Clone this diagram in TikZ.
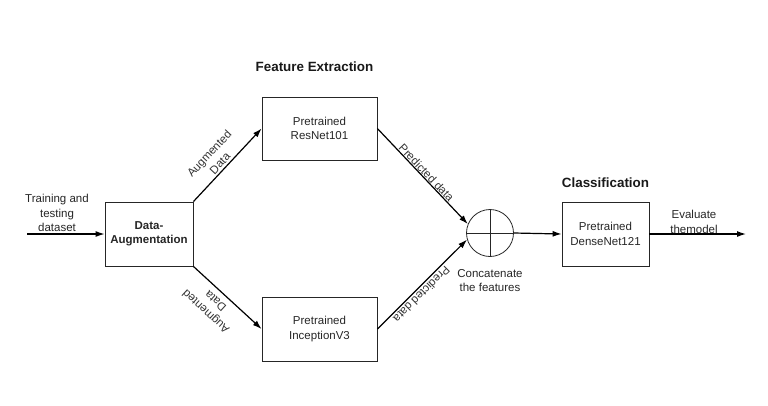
\documentclass[tikz,border=0pt]{standalone}
\usepackage{fontspec}
\setmainfont{Liberation Sans}
\usetikzlibrary{positioning, arrows.meta}

\newcommand{\diagfont}{\fontsize{11.5}{14.5}\selectfont}
\newcommand{\headfont}{\fontsize{13.4}{16}\selectfont\bfseries}

\begin{document}
\begin{tikzpicture}[x=1pt, y=-1pt,
		block/.style={rectangle, draw=black!85, line width=0.8pt, inner sep=0pt, align=center, minimum width=115pt, minimum height=64pt, font=\diagfont, text=black!85},
		concat/.style={circle, draw=black!85, line width=0.8pt, inner sep=0pt, minimum size=47pt, path picture={\draw[line width=0.8pt] (path picture bounding box.north)--(path picture bounding box.south);
		\draw[line width=0.8pt] (path picture bounding box.west)--(path picture bounding box.east);}},
		plain/.style={align=center, inner sep=0pt, font=\diagfont, text=black!85},
		head/.style={inner sep=0pt, font=\headfont, text=black!90},
		edgelbl/.style={align=center, inner sep=2pt, font=\diagfont, text=black!80},
		link/.style={->, line width=1.2pt},
		>={Latex[length=9pt, width=6pt]}
	]
	\useasboundingbox (0,0) rectangle (768,405);

	\node[block, minimum width=88pt, font=\diagfont\bfseries] (aug) at (149,234) {Data-\\Augmentation};
	\node[block, minimum height=63pt] (resnet) at (319.5,128.5) {Pretrained\\ResNet101};
	\node[block] (incep) at (319.5,329) {Pretrained\\InceptionV3};
	\node[concat] (cat) at (490,233) {};
	\node[block, minimum width=87pt] (dense) at (605.5,234) {Pretrained\\DenseNet121};

	\node[head, above=25pt of resnet, xshift=-5pt] (fe) {Feature Extraction};
	\node[head, above=14pt of dense] (cls) {Classification};
	\node[plain, below=12pt of cat] (catlbl) {Concatenate\\the features};
	\node[plain] (train) at (57,213) {Training and\\testing\\dataset};
	\node[plain] (eval) at (694,222) {Evaluate\\themodel};

	\coordinate (in) at (27,234);
	\coordinate (out) at (746,234);

	\draw[link] (in) -- (aug.west);
	\draw[link] (aug.north east) -- node[edgelbl, sloped, above, pos=0.46] {Augmented\\Data} (resnet.west);
	\draw[link] (aug.south east) -- node[edgelbl, sloped, above, rotate=180, inner sep=6pt, pos=0.43] {Augmented\\Data} (incep.west);
	\draw[link] (resnet.east) -- node[edgelbl, sloped, above, inner sep=0.5pt, pos=0.5] {Predicted data} (cat.158);
	\draw[link] (incep.east) -- node[edgelbl, sloped, above, rotate=180, inner sep=2pt, pos=0.44] {Predicted data} (cat.196);

	\foreach \i/\j in {cat.east/dense.west, dense.east/out}
		\draw[link] (\i) -- (\j);

\end{tikzpicture}
\end{document}
